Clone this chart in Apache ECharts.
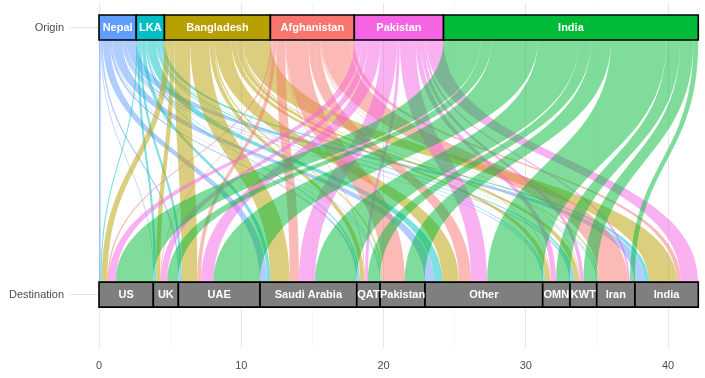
<!DOCTYPE html>
<html><head><meta charset="utf-8">
<script src="https://cdn.jsdelivr.net/npm/echarts@6/dist/echarts.min.js"></script>
<style>html,body{margin:0;padding:0;background:#fff}#c{width:705px;height:378px}</style>
</head><body><div id="c"></div>
<script>
const origins = ['Nepal','LKA','Bangladesh','Afghanistan','Pakistan','India'];
const destinations = ['US','UK','UAE','Saudi Arabia','QAT','Pakistan','Other','OMN','KWT','Iran','India'];
const originColors = ['#619CFF','#00BFC4','#B79F00','#F8766D','#F564E3','#00BA38'];
// flows from each origin, in destination order
const fromNepal       = [0.12,0.05,0.10,0.50,0.15,0.05,0.65,0.10,0.15,0.05,0.70];
const fromLKA         = [0.08,0.15,0.15,0.25,0.10,0.05,0.60,0.10,0.15,0.05,0.30];
const fromBangladesh  = [0.40,0.30,1.10,1.35,0.30,0.10,1.15,0.35,0.35,0.10,1.95];
const fromAfghanistan = [0.10,0.05,0.25,0.65,0.05,1.55,0.85,0.05,0.05,2.00,0.30];
const fromPakistan    = [0.50,0.45,0.90,1.15,0.20,0.00,1.12,0.35,0.25,0.15,1.20];
const fromIndia       = [2.62,0.76,3.24,2.90,0.84,1.41,3.90,0.97,0.93,0.34,0.00];
const xTicks = [0,10,20,30,40];
const xMinorTicks = [5,15,25,35];
const levels = ['Destination','Origin'];

const flows = [fromNepal, fromLKA, fromBangladesh, fromAfghanistan, fromPakistan, fromIndia];
const BAR_HALF = 12.5;

// stacked positions
const originTot = flows.map(r => r.reduce((a,b)=>a+b,0));
const destTot = destinations.map((d,j) => flows.reduce((a,r)=>a+r[j],0));
const originStart = []; let acc = 0;
originTot.forEach(t => { originStart.push(acc); acc += t; });
const destStart = []; acc = 0;
destTot.forEach(t => { destStart.push(acc); acc += t; });

const ribbonData = [];
const destOffset = destStart.slice();
const originOffset = originStart.slice();
for (let i = 0; i < origins.length; i++) {
  for (let j = 0; j < destinations.length; j++) {
    const v = flows[i][j];
    const a0 = originOffset[i], b0 = destOffset[j];
    originOffset[i] += v; destOffset[j] += v;
    if (v > 0) ribbonData.push([a0, a0 + v, b0, b0 + v, i]);
  }
}
const originBars = origins.map((o,i) => [originStart[i], originStart[i] + originTot[i], i]);
const destBars = destinations.map((d,j) => [destStart[j], destStart[j] + destTot[j], j]);

function renderRibbon(params, api) {
  const a0 = api.value(0), a1 = api.value(1), b0 = api.value(2), b1 = api.value(3), ci = api.value(4);
  const t0 = api.coord([a0, 1]), t1 = api.coord([a1, 1]);
  const d0 = api.coord([b0, 0]), d1 = api.coord([b1, 0]);
  const yT = t0[1] + BAR_HALF, yB = d0[1] - BAR_HALF, ym = (yT + yB) / 2;
  const p = 'M' + t0[0] + ' ' + yT +
    ' C' + t0[0] + ' ' + ym + ' ' + d0[0] + ' ' + ym + ' ' + d0[0] + ' ' + yB +
    ' L' + d1[0] + ' ' + yB +
    ' C' + d1[0] + ' ' + ym + ' ' + t1[0] + ' ' + ym + ' ' + t1[0] + ' ' + yT + ' Z';
  return { type: 'path', shape: { pathData: p }, style: { fill: originColors[ci], opacity: 0.5 } };
}
function makeBarRenderer(level, names, colorFn) {
  return function (params, api) {
    const x0 = api.value(0), x1 = api.value(1), k = api.value(2);
    const p0 = api.coord([x0, level]), p1 = api.coord([x1, level]);
    return {
      type: 'rect',
      shape: { x: p0[0], y: p0[1] - BAR_HALF, width: p1[0] - p0[0], height: 2 * BAR_HALF },
      style: { fill: colorFn(k), stroke: '#000', lineWidth: 1.6 },
      textContent: { style: { text: names[k], fill: '#fff', fontWeight: 'bold', fontSize: 11, fontFamily: 'Liberation Sans, Arial, sans-serif' } },
      textConfig: { position: 'inside' }
    };
  };
}

const chart = echarts.init(document.getElementById('c'));
chart.setOption({
  animation: false,
  grid: { left: 70, right: 5, top: 3, bottom: 30, containLabel: false },
  xAxis: [{
    type: 'value', min: -2.039, max: 42.25,
    axisLine: { show: false },
    axisTick: { show: false, customValues: xTicks },
    axisLabel: { customValues: xTicks, color: '#4D4D4D', fontSize: 11, margin: 12, fontFamily: 'Liberation Sans, Arial, sans-serif' },
    splitLine: { show: true, lineStyle: { color: '#E6E6E6', width: 1.1 } }
  }, {
    type: 'value', min: -2.039, max: 42.25, position: 'bottom',
    axisLine: { show: false },
    axisTick: { show: false, customValues: xMinorTicks },
    axisLabel: { show: false, customValues: xMinorTicks },
    splitLine: { show: true, lineStyle: { color: '#F2F2F2', width: 0.6 } }
  }],
  yAxis: {
    type: 'value', min: -0.2, max: 1.092,
    axisLine: { show: false },
    axisTick: { show: false, customValues: [0, 1] },
    axisLabel: { customValues: [0, 1], formatter: v => levels[v], color: '#4D4D4D', fontSize: 11, margin: 6, fontFamily: 'Liberation Sans, Arial, sans-serif' },
    splitLine: { show: true, lineStyle: { color: '#E6E6E6', width: 1.1 } }
  },
  series: [
    { type: 'custom', renderItem: renderRibbon, data: ribbonData, xAxisIndex: 0, z: 2 },
    { type: 'custom', renderItem: makeBarRenderer(1, origins, k => originColors[k]), data: originBars, z: 3 },
    { type: 'custom', renderItem: makeBarRenderer(0, destinations, k => '#7F7F7F'), data: destBars, z: 3 }
  ]
});
</script></body></html>
